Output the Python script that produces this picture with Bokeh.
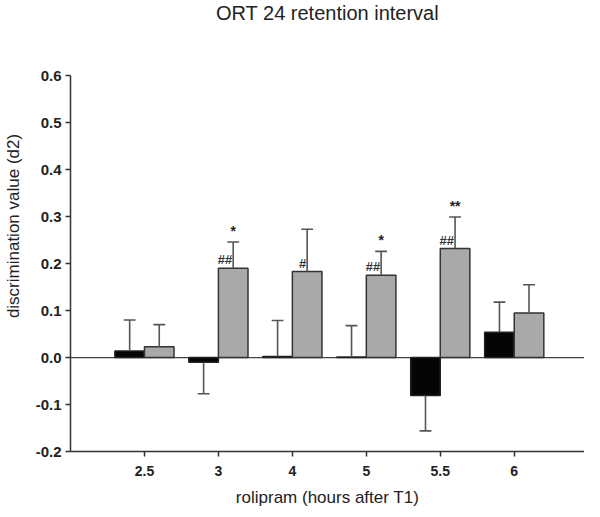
from bokeh.plotting import figure
from bokeh.models import ColumnDataSource, FixedTicker, NumeralTickFormatter, Span, Range1d
from bokeh.core.properties import value
from bokeh.embed import file_html
from bokeh.resources import INLINE

categories = ["2.5", "3", "4", "5", "5.5", "6"]
vehicle = [0.014, -0.010, 0.002, 0.001, -0.081, 0.054]
vehicle_err = [0.066, 0.067, 0.077, 0.067, 0.075, 0.064]
rolipram = [0.023, 0.190, 0.183, 0.175, 0.232, 0.095]
rolipram_err = [0.047, 0.056, 0.090, 0.051, 0.067, 0.060]
hash_marks = ["", "##", "#", "##", "##", ""]
star_marks = ["", "*", "", "*", "**", ""]
y_ticks = [-0.2, -0.1, 0.0, 0.1, 0.2, 0.3, 0.4, 0.5, 0.6]
title_text = "ORT 24 retention interval"

FONT = "Liberation Sans"
idx = list(range(len(categories)))
off = 0.2
bw = 0.4
cap = 0.08
y_top = 0.76

def err_parts(xs, vals, errs):
    ends = [v + e if v >= 0 else v - e for v, e in zip(vals, errs)]
    return dict(x=xs, y0=vals, y1=ends, cx0=[x - cap for x in xs], cx1=[x + cap for x in xs])

xb = [i - off for i in idx]
xg = [i + off for i in idx]

p = figure(width=584, height=509, output_backend="svg", toolbar_location=None, title=None,
           x_range=Range1d(-1, 5.95), y_range=Range1d(-0.2, y_top),
           min_border_left=64, min_border_right=0, min_border_top=0, min_border_bottom=50)
p.outline_line_color = None
p.grid.visible = False
p.background_fill_color = "white"

zero = Span(location=0, dimension="width", line_color="#444444", line_width=1.2, level="underlay")
p.add_layout(zero)

p.vbar(x=xb, top=vehicle, bottom=0, width=bw, fill_color="#050505", line_color="#222222", line_width=1.5)
p.vbar(x=xg, top=rolipram, bottom=0, width=bw, fill_color="#a9a9a9", line_color="#333333", line_width=1.5)

for xs, vals, errs in ((xb, vehicle, vehicle_err), (xg, rolipram, rolipram_err)):
    src = ColumnDataSource(err_parts(xs, vals, errs))
    p.segment(x0="x", y0="y0", x1="x", y1="y1", source=src, line_color="#555555", line_width=1.6)
    p.segment(x0="cx0", y0="y1", x1="cx1", y1="y1", source=src, line_color="#555555", line_width=1.6)

ann = ColumnDataSource(dict(x=xg, y=rolipram, h=hash_marks,
                            ye=[v + e for v, e in zip(rolipram, rolipram_err)], s=star_marks))
p.text(x="x", y="y", text="h", source=ann, text_align="right", text_baseline="bottom",
       x_offset=-1, y_offset=-1, text_font=value(FONT), text_font_size="13px",
       text_font_style="bold", text_color="#333333")
p.text(x="x", y="ye", text="s", source=ann, text_align="center", text_baseline="bottom",
       y_offset=-3, text_font=value(FONT), text_font_size="14px",
       text_font_style="bold", text_color="#222222")

# title drawn inside the extended (axis-less) top strip of the plot area
p.text(x=[2.475], y=[y_top], text=[title_text], text_align="center", text_baseline="middle",
       y_offset=12, text_font=value(FONT), text_font_size="20px", text_color="#222222")

xa = p.xaxis[0]
xa.ticker = FixedTicker(ticks=idx)
xa.major_label_overrides = {i: c for i, c in zip(idx, categories)}
xa.axis_label = "rolipram (hours after T1)"
ya = p.yaxis[0]
ya.ticker = FixedTicker(ticks=y_ticks)
ya.bounds = (y_ticks[0], y_ticks[-1])
ya.formatter = NumeralTickFormatter(format="0.0")
ya.axis_label = "discrimination value (d2)"

for ax in (xa, ya):
    ax.axis_line_color = "#333333"
    ax.axis_line_width = 1.5
    ax.major_tick_line_color = "#333333"
    ax.major_tick_line_width = 1.5
    ax.major_tick_in = 0
    ax.major_tick_out = 5
    ax.minor_tick_line_color = None
    ax.major_label_text_font = FONT
    ax.major_label_text_font_style = "bold"
    ax.major_label_text_color = "#222222"
    ax.axis_label_text_font = FONT
    ax.axis_label_text_font_style = "normal"
    ax.axis_label_text_font_size = "17px"
    ax.axis_label_text_color = "#222222"

xa.major_label_text_font_size = "14px"
xa.major_label_standoff = 9
xa.axis_label_standoff = 9
ya.major_label_text_font_size = "15px"
ya.major_label_standoff = 4
ya.axis_label_standoff = 10

open("out.html", "w").write(file_html(p, INLINE))
